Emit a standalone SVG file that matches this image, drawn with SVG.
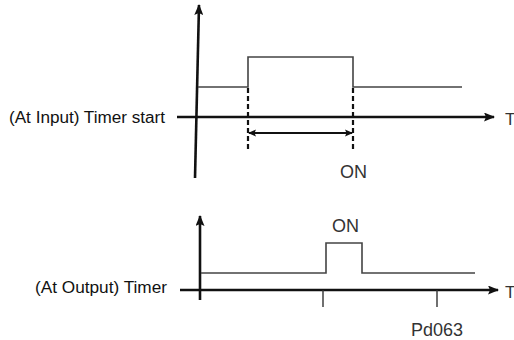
<svg xmlns="http://www.w3.org/2000/svg" width="514" height="340" viewBox="0 0 514 340">
<style>
.axis{stroke:#111;stroke-width:2.6;fill:none}
.sig{stroke:#444;stroke-width:1.6;fill:none}
.dash{stroke:#111;stroke-width:2.2;stroke-dasharray:5 3;fill:none}
.tick{stroke:#333;stroke-width:1.4;fill:none}
.lbl{font-family:"Liberation Sans",Arial,sans-serif;fill:#111}
.lt{font-family:"Liberation Sans",Arial,sans-serif;fill:#333}
</style>
<defs>
<marker id="ah" markerWidth="11" markerHeight="9" refX="10" refY="4.5" orient="auto" markerUnits="userSpaceOnUse">
<path d="M0,0 L11,4.5 L0,9 L2,4.5 Z" fill="#111"/>
</marker>
<marker id="ah2" markerWidth="8" markerHeight="8" refX="7" refY="4" orient="auto-start-reverse" markerUnits="userSpaceOnUse">
<path d="M0,0.5 L8,4 L0,7.5 L1.5,4 Z" fill="#111"/>
</marker>
</defs>
<g id="connectors">
<line class="axis" x1="177" y1="117" x2="494" y2="117" marker-end="url(#ah)"/>
<line class="axis" x1="195" y1="178" x2="199" y2="5" marker-end="url(#ah)"/>
<polyline class="sig" points="198,87 248,87 248,57 353,57 353,87 462,87"/>
<line class="dash" x1="248" y1="88" x2="248" y2="150"/>
<line class="dash" x1="353" y1="88" x2="353" y2="150"/>
<line stroke="#111" stroke-width="2.2" x1="249" y1="133" x2="352" y2="133" marker-start="url(#ah2)" marker-end="url(#ah2)"/>
<line class="axis" x1="180" y1="290" x2="498" y2="290" marker-end="url(#ah)"/>
<line class="axis" x1="200" y1="300" x2="200" y2="216" marker-end="url(#ah)"/>
<polyline class="sig" points="201,273 326,273 326,243 362,243 362,273 475,273"/>
<line class="tick" x1="323" y1="290" x2="323" y2="307"/>
<line class="tick" x1="437" y1="290" x2="437" y2="307"/>
</g>
<g id="label-input">
<text class="lbl" x="9" y="123" font-size="16" textLength="156" lengthAdjust="spacingAndGlyphs">(At Input) Timer start</text>
</g>
<g id="label-output">
<text class="lbl" x="35" y="293" font-size="16" textLength="132" lengthAdjust="spacingAndGlyphs">(At Output) Timer</text>
</g>
<g id="label-T1"><text class="lt" x="505" y="125" font-size="17">T</text></g>
<g id="label-T2"><text class="lt" x="505" y="298" font-size="17">T</text></g>
<g id="label-on1"><text class="lt" x="340" y="178" font-size="18">ON</text></g>
<g id="label-on2"><text class="lt" x="332" y="232" font-size="18">ON</text></g>
<g id="label-pd"><text class="lt" x="411" y="336" font-size="18">Pd063</text></g>
</svg>
